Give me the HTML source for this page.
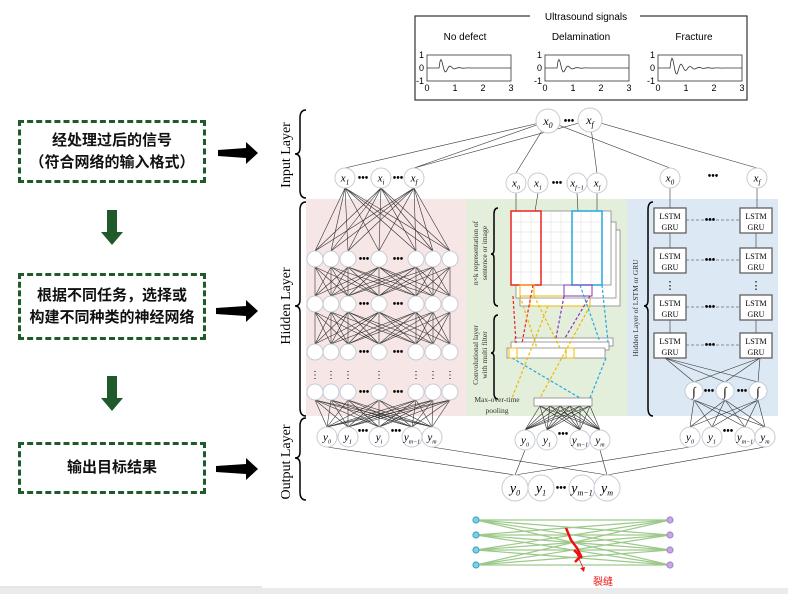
<!DOCTYPE html>
<html><head><meta charset="utf-8"><style>
body{margin:0;background:#fff;width:788px;height:594px;overflow:hidden;position:relative;font-family:"Liberation Sans","Noto Sans CJK SC",sans-serif}
.box{position:absolute;left:18px;width:188px;border:3px dashed #1f5a2a;box-sizing:border-box;display:flex;align-items:center;justify-content:center;text-align:center;font-weight:bold;font-size:15px;line-height:22px;color:#111;font-family:"Liberation Sans","Noto Sans CJK SC",sans-serif}
</style></head><body>
<div class="box" style="top:120px;height:63px">经处理过后的信号<br>（符合网络的输入格式）</div>
<div class="box" style="top:273px;height:67px">根据不同任务，选择或<br>构建不同种类的神经网络</div>
<div class="box" style="top:442px;height:52px">输出目标结果</div>
<svg id="s" width="788" height="594" style="position:absolute;left:0;top:0" font-family="Liberation Serif,serif">
<rect x="0" y="588" width="788" height="6" fill="#ebebeb"/>
<line x1="0" y1="587" x2="262" y2="587" stroke="#ccc"/>
<path d="M107 210h10v22h6l-11 13l-11-13h6z" fill="#1f5a2a"/>
<path d="M107 376h10v22h6l-11 13l-11-13h6z" fill="#1f5a2a"/>
<g fill="#000"><path d="M218 150l28-2v-6l12 11l-12 11v-6l-28-2z"/><path d="M216 308l30-2v-6l12 11l-12 11v-6l-30-2z"/><path d="M216 466l30-2v-6l12 11l-12 11v-6l-30-2z"/></g>
<rect x="306" y="199" width="160" height="217" fill="#f7e6e6"/>
<rect x="466" y="199" width="161" height="217" fill="#e3eedb"/>
<rect x="627" y="199" width="151" height="217" fill="#dce8f4"/>
<rect x="415" y="16" width="332" height="84" fill="#fff" stroke="#333" stroke-width="1.2"/>
<rect x="530" y="10" width="110" height="12" fill="#fff"/>
<text x="586" y="20" font-family="Liberation Sans,sans-serif" font-size="10" text-anchor="middle">Ultrasound signals</text>
<g font-family="Liberation Sans,sans-serif" font-size="10" text-anchor="middle">
<text x="465" y="40">No defect</text><text x="581" y="40">Delamination</text><text x="694" y="40">Fracture</text></g>
<g id="plots" stroke="#333" fill="none" stroke-width="0.8"></g>
<g id="plotlab" font-family="Liberation Sans,sans-serif" font-size="9"></g>
<g stroke="#000" fill="none" stroke-width="1.5">
<path d="M306 110q-6 0-6 8v30q0 6-5 6q5 0 5 6v30q0 8 6 8"/>
<path d="M306 202q-6 0-6 8v90q0 6-5 6q5 0 5 6v96q0 8 6 8"/>
<path d="M306 418q-6 0-6 8v26q0 6-5 6q5 0 5 6v28q0 8 6 8"/>
<path d="M498 208q-4 0-4 6v36q0 4-3 4q3 0 3 4v42q0 6 4 6"/>
<path d="M498 315q-4 0-4 6v28q0 4-3 4q3 0 3 4v36q0 6 4 6"/>
<path d="M653 202q-5 0-5 8v90q0 6-4 6q4 0 4 6v96q0 8 5 8"/>
</g>
<g font-size="14" text-anchor="middle">
<text transform="translate(290,155) rotate(-90)">Input Layer</text>
<text transform="translate(290,306) rotate(-90)">Hidden Layer</text>
<text transform="translate(290,462) rotate(-90)">Output Layer</text></g>
<g id="lines" stroke="#333" stroke-width="0.6" fill="none"></g>
<g fill="#fff" stroke="#888" stroke-width="0.8">
<rect x="520" y="230" width="100" height="76"/><rect x="516" y="222" width="100" height="76"/><rect x="511" y="211" width="100" height="74"/></g>
<g stroke="#ddd" stroke-width="0.5"><path d="M511 222h90M511 232h90M511 242h90M511 252h90M511 262h90M511 272h90M521 211v74M531 211v74M551 211v74M561 211v74M581 211v74M591 211v74"/></g>
<rect x="511" y="211" width="30" height="74" fill="none" stroke="#e22" stroke-width="1.5"/>
<rect x="572" y="211" width="30" height="74" fill="none" stroke="#2ad" stroke-width="1.5"/>
<g fill="none" stroke-width="1"><rect x="520" y="285" width="14" height="11" stroke="#eb0"/><rect x="530" y="296" width="60" height="10" stroke="#eb0"/><rect x="564" y="285" width="28" height="11" stroke="#83b"/></g>
<g fill="#fff" stroke="#777" stroke-width="0.7"><rect x="515" y="338" width="98" height="8"/><rect x="511" y="342" width="98" height="8"/><rect x="507" y="348" width="98" height="10"/><rect x="534" y="398" width="58" height="8"/></g>
<g fill="none" stroke-width="1.2" stroke-dasharray="3,2">
<path d="M513 296L516 343M533 285L522 343" stroke="#e22"/>
<path d="M520 296L537 348M534 296L560 348M548 306L512 398M590 306L540 398" stroke="#eb0"/>
<path d="M564 296L556 338M590 296L565 338" stroke="#83b"/>
<path d="M580 285L600 342M602 285L608 342M512 358L580 398M606 358L590 398" stroke="#2ad"/></g>
<rect x="509" y="348" width="8" height="10" fill="none" stroke="#eb0"/><rect x="566" y="348" width="8" height="10" fill="none" stroke="#eb0"/>
<g font-size="7.5" text-anchor="middle" fill="#333">
<text transform="translate(478,253) rotate(-90)">n×k representation of</text>
<text transform="translate(487,253) rotate(-90)">sentence or image</text>
<text transform="translate(478,355) rotate(-90)">Convolutional layer</text>
<text transform="translate(487,355) rotate(-90)">with multi filter</text>
<text transform="translate(638,308) rotate(-90)">Hidden Layer of LSTM or GRU</text>
<text x="497" y="402">Max-over-time</text><text x="497" y="413">pooling</text></g>
<g id="nodes"></g>
<g id="bn" stroke="#9cc98a" stroke-width="1.2"></g>
<path d="M566 528l5 12l6 8l4 8l-6 6M574 550l8 8" stroke="#e11" stroke-width="2.5" fill="none"/>
<path d="M576 552l8 18" stroke="#e11" stroke-width="0.8"/><path d="M584 572l-4-4l5-1z" fill="#e11"/>
<text x="593" y="585" fill="#e11" font-size="10" font-family="Liberation Sans,Noto Sans CJK SC,sans-serif">裂缝</text>
</svg>
<script>
(function(){
var NS="http://www.w3.org/2000/svg",L=document.getElementById('lines'),N=document.getElementById('nodes');
function el(p,t,a){var e=document.createElementNS(NS,t);for(var k in a)e.setAttribute(k,a[k]);p.appendChild(e);return e}
function ln(x1,y1,x2,y2){el(L,'line',{x1:x1,y1:y1,x2:x2,y2:y2})}
function circ(x,y,r,lab,fs){el(N,'circle',{cx:x,cy:y,r:r,fill:'#fff',stroke:'#c5ccd6','stroke-width':1});if(lab){var t=el(N,'text',{x:x,y:y+fs/3,'font-size':fs,'text-anchor':'middle','font-style':'italic'});t.innerHTML=lab}}
function dots(x,y){var t=el(N,'text',{x:x,y:y+3,'font-size':10,'text-anchor':'middle','font-weight':'bold'});t.textContent='•••'}
function box(x,y){el(N,'rect',{x:x,y:y,width:32,height:25,fill:'#fff',stroke:'#555','stroke-width':1.2});var t=el(N,'text',{x:x+16,y:y+11,'font-size':8,'text-anchor':'middle'});t.textContent='LSTM';var u=el(N,'text',{x:x+16,y:y+22,'font-size':8,'text-anchor':'middle'});u.textContent='GRU'}
var P=document.getElementById('plots'),PL=document.getElementById('plotlab');
[[427,511],[545,629],[658,742]].forEach(function(ab,k){var a=ab[0],b=ab[1];el(P,'rect',{x:a,y:55,width:b-a,height:26});var d='M'+a+' 68';for(var x=a;x<=b;x+=1){var tt=x-a-12;var y=68;if(tt>0)y=68-Math.exp(-tt/(k==2?10:6))*12*Math.sin(tt*0.7);d+=' L'+x+' '+y.toFixed(1)}el(P,'path',{d:d});
['0','1','2','3'].forEach(function(s,i){var t=el(PL,'text',{x:a+i*(b-a)/3,y:91,'text-anchor':'middle'});t.textContent=s});
[['1',58],['0',71],['-1',84]].forEach(function(q){var t=el(PL,'text',{x:a-3,y:q[1],'text-anchor':'end'});t.textContent=q[0]})});
ln(548,121,345,168);ln(548,121,414,168);ln(590,120,414,168);
ln(548,121,516,173);ln(590,120,597,173);ln(548,121,670,168);ln(590,120,757,168);
var cx=[315,331,348,379,416,433,450],ry=[259,304,352,392];
[345,381,414].forEach(function(a){cx.forEach(function(b){ln(a,188,b,251)})});
for(var r=0;r<2;r++)cx.forEach(function(a){cx.forEach(function(b){if(Math.abs(a-b)<100)ln(a,ry[r]+8,b,ry[r+1]-8)})});
var lo=[327,348,379,412,432];
cx.forEach(function(a){lo.forEach(function(b){ln(a,400,b,427)})});
cx.forEach(function(x){ry.forEach(function(y){circ(x,y,8)})});
ry.forEach(function(y){dots(364,y);dots(398,y)});
cx.forEach(function(x){var t=el(N,'text',{x:x,y:378,'font-size':10,'text-anchor':'middle'});t.textContent='⋮'});
[[516,516],[538,535],[577,578],[597,597]].forEach(function(a){ln(a[0],193,a[1],211)});
var mo=[525,547,580,600];
[540,550,560,570,580,590].forEach(function(a){mo.forEach(function(b){ln(a,406,b,430)})});
ln(670,188,670,208);ln(757,188,757,208);
var rows=[208,248,295,333];
rows.forEach(function(y,i){box(654,y);box(740,y);el(L,'line',{x1:686,y1:y+12,x2:740,y2:y+12,'stroke-dasharray':'3,2'});dots(710,y+12);if(i<3&&i!=1){ln(670,y+25,670,rows[i+1]);ln(756,y+25,756,rows[i+1])}});
[670,756].forEach(function(x){var t=el(N,'text',{x:x,y:289,'font-size':11,'text-anchor':'middle'});t.textContent='⋮'});
var sg=[694,725,758];
[665,760].forEach(function(a){sg.forEach(function(b){ln(a,358,b,382)})});
var ro=[690,712,745,765];
sg.forEach(function(a){ro.forEach(function(b){ln(a,400,b,427)})});
sg.forEach(function(x){circ(x,391,9);var t=el(N,'text',{x:x,y:396,'font-size':13,'text-anchor':'middle'});t.textContent='∫'});dots(709,391);dots(742,391);
ln(327,447,515,475);ln(432,447,607,475);ln(525,450,515,475);ln(600,450,607,475);ln(690,447,515,475);ln(765,447,607,475);
circ(548,121,12,'x<tspan font-size="8" dy="3">0</tspan>',12);circ(590,120,12,'x<tspan font-size="8" dy="3">f</tspan>',12);dots(569,121);
[[345,'1'],[381,'i'],[414,'f']].forEach(function(q){circ(q[0],178,10,'x<tspan font-size="7" dy="3">'+q[1]+'</tspan>',11)});dots(363,178);dots(398,178);
[[516,'0'],[538,'1'],[577,'f−1'],[597,'f']].forEach(function(q){circ(q[0],183,10,'x<tspan font-size="6" dy="3">'+q[1]+'</tspan>',11)});dots(557,183);
circ(670,178,10,'x<tspan font-size="7" dy="3">0</tspan>',11);circ(757,178,10,'x<tspan font-size="7" dy="3">f</tspan>',11);dots(713,176);
[['0',327],['1',348],['i',379],['m−1',412],['m',432]].forEach(function(q){circ(q[1],437,10,'y<tspan font-size="6" dy="3">'+q[0]+'</tspan>',11)});dots(363,431);dots(396,431);
[['0',525],['1',547],['m−1',580],['m',600]].forEach(function(q){circ(q[1],440,10,'y<tspan font-size="6" dy="3">'+q[0]+'</tspan>',11)});dots(563,434);
[['0',690],['1',712],['m−1',745],['m',765]].forEach(function(q){circ(q[1],437,10,'y<tspan font-size="6" dy="3">'+q[0]+'</tspan>',11)});dots(728,431);
[['0',515],['1',541],['m−1',582],['m',607]].forEach(function(q){circ(q[1],488,13,'y<tspan font-size="8" dy="3">'+q[0]+'</tspan>',14)});dots(561,488);
var B=document.getElementById('bn'),ys=[520,535,550,565];
ys.forEach(function(a){ys.forEach(function(b){el(B,'line',{x1:476,y1:a,x2:670,y2:b})})});
ys.forEach(function(y){el(B,'circle',{cx:476,cy:y,r:3,fill:'#7cd0f0',stroke:'#4ab'});el(B,'circle',{cx:670,cy:y,r:3,fill:'#c9a8e0',stroke:'#a8c'})});
})();
</script>
</body></html>
